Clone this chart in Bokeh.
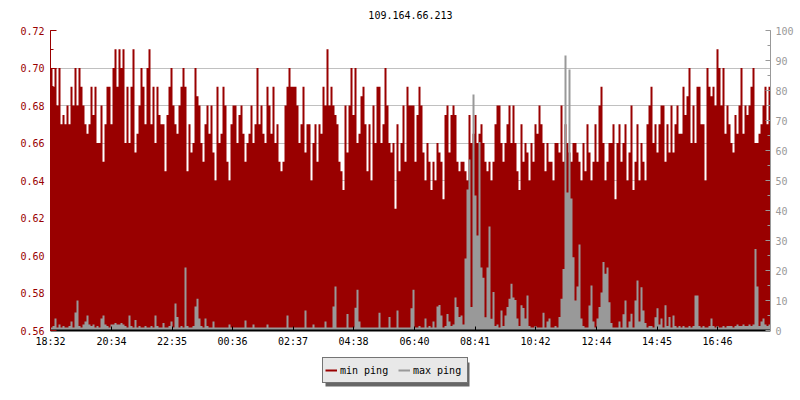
from bokeh.plotting import figure
from bokeh.layouts import column
from bokeh.models import (Range1d, LinearAxis, FixedTicker, SingleIntervalTicker,
                          PrintfTickFormatter, Legend, LegendItem, BoxAnnotation)
from bokeh.embed import file_html
from bokeh.resources import INLINE

TITLE = "109.164.66.213"
SERIES_NAMES = ["min ping", "max ping"]
SAMPLE_MINUTES = 4
START_TIME = "18:32"
TICK_LABELS = ["18:32", "20:34", "22:35", "00:36", "02:37", "04:38",
               "06:40", "08:41", "10:42", "12:44", "14:45", "16:46"]

min_ping = [
    0.70, 0.69, 0.70, 0.68, 0.70, 0.67, 0.675, 0.67, 0.68, 0.67, 0.69, 0.68, 0.70, 0.68, 0.70, 0.69, 0.68, 0.67, 0.665, 0.67,
    0.69, 0.675, 0.69, 0.66, 0.66, 0.68, 0.65, 0.67, 0.69, 0.69, 0.67, 0.70, 0.71, 0.69, 0.71, 0.70, 0.71, 0.66, 0.69, 0.66,
    0.69, 0.71, 0.655, 0.665, 0.68, 0.70, 0.69, 0.67, 0.70, 0.71, 0.67, 0.69, 0.66, 0.69, 0.675, 0.67, 0.67, 0.645, 0.675, 0.69,
    0.70, 0.68, 0.67, 0.665, 0.68, 0.69, 0.70, 0.69, 0.645, 0.67, 0.655, 0.66, 0.70, 0.685, 0.68, 0.66, 0.65, 0.67, 0.68, 0.665,
    0.68, 0.655, 0.64, 0.69, 0.66, 0.665, 0.69, 0.68, 0.65, 0.64, 0.67, 0.68, 0.68, 0.66, 0.675, 0.68, 0.665, 0.65, 0.66, 0.665,
    0.68, 0.66, 0.67, 0.70, 0.67, 0.68, 0.665, 0.66, 0.69, 0.68, 0.665, 0.69, 0.66, 0.67, 0.65, 0.645, 0.65, 0.68, 0.69, 0.70,
    0.69, 0.69, 0.69, 0.68, 0.66, 0.67, 0.69, 0.655, 0.67, 0.67, 0.64, 0.66, 0.67, 0.65, 0.67, 0.665, 0.69, 0.68, 0.71, 0.68,
    0.69, 0.68, 0.675, 0.67, 0.65, 0.645, 0.635, 0.68, 0.655, 0.68, 0.70, 0.675, 0.70, 0.66, 0.665, 0.685, 0.69, 0.67, 0.645, 0.67,
    0.64, 0.68, 0.66, 0.69, 0.69, 0.66, 0.67, 0.70, 0.68, 0.66, 0.655, 0.66, 0.625, 0.67, 0.645, 0.66, 0.68, 0.65, 0.69, 0.68,
    0.68, 0.68, 0.65, 0.675, 0.69, 0.68, 0.655, 0.64, 0.66, 0.65, 0.635, 0.65, 0.64, 0.66, 0.655, 0.65, 0.63, 0.675, 0.68, 0.655,
    0.675, 0.68, 0.675, 0.65, 0.645, 0.65, 0.65, 0.645, 0.64, 0.675, 0.66, 0.665, 0.675, 0.66, 0.665, 0.67, 0.66, 0.65, 0.645, 0.65,
    0.64, 0.65, 0.67, 0.68, 0.68, 0.66, 0.65, 0.66, 0.67, 0.68, 0.66, 0.68, 0.66, 0.645, 0.635, 0.67, 0.65, 0.66, 0.655, 0.64,
    0.66, 0.65, 0.67, 0.665, 0.68, 0.67, 0.66, 0.645, 0.66, 0.65, 0.65, 0.64, 0.66, 0.66, 0.655, 0.68, 0.65, 0.67, 0.66, 0.655,
    0.65, 0.66, 0.66, 0.655, 0.65, 0.64, 0.66, 0.645, 0.67, 0.655, 0.64, 0.65, 0.67, 0.65, 0.68, 0.69, 0.66, 0.64, 0.65, 0.66,
    0.66, 0.67, 0.63, 0.66, 0.67, 0.65, 0.66, 0.67, 0.64, 0.655, 0.68, 0.635, 0.65, 0.67, 0.64, 0.66, 0.65, 0.64, 0.67, 0.68,
    0.69, 0.66, 0.67, 0.655, 0.67, 0.68, 0.68, 0.65, 0.67, 0.655, 0.68, 0.655, 0.67, 0.68, 0.665, 0.665, 0.69, 0.675, 0.685, 0.70,
    0.66, 0.68, 0.66, 0.69, 0.69, 0.67, 0.67, 0.64, 0.70, 0.69, 0.685, 0.69, 0.68, 0.71, 0.70, 0.68, 0.70, 0.665, 0.68, 0.67,
    0.66, 0.655, 0.675, 0.665, 0.68, 0.70, 0.665, 0.68, 0.675, 0.68, 0.69, 0.70, 0.66, 0.66, 0.665, 0.67, 0.68, 0.69, 0.67, 0.69,
]

max_ping = [
    1, 1.5, 4, 1, 2, 1, 1.5, 1, 1, 1.5, 3, 1, 6, 10, 1.5, 1, 2, 3, 5, 2,
    1.5, 2, 1, 1.5, 1, 4, 5, 2, 1.5, 1, 2, 2, 2.5, 2, 2, 2.5, 2, 1.5, 1, 5,
    1.5, 1, 3.5, 1, 1.5, 1, 1, 1.5, 1, 1, 1.5, 1, 5, 1.5, 1, 1, 2.5, 1, 1, 1.5,
    3, 1, 9, 4.5, 1, 1.5, 1, 21, 1.5, 1, 1, 1.5, 8, 10.6, 4, 1.5, 1, 4, 1.5, 1,
    1, 3, 1, 1, 1, 1, 1, 1, 1, 2, 1, 1, 1, 1, 1, 1, 1, 3.3, 1, 1,
    1, 2, 1, 1, 1, 1, 1, 1, 2, 1, 1, 1, 1, 1, 1, 1, 1, 1, 5, 1,
    1, 1, 1, 1, 1, 1, 1, 6.7, 1, 1, 1, 2, 1, 1, 1, 1, 1, 3, 1, 1,
    1, 8, 14.7, 1, 1, 1, 1, 1, 5.5, 1, 1, 1, 7.6, 13.6, 3, 1, 1, 1, 1, 1,
    1, 1, 1, 1, 5.9, 1, 1, 1, 1, 4.5, 1, 1, 1, 6.7, 1, 1, 1, 1, 1, 1,
    7.4, 13.6, 1, 1, 1.5, 1, 1, 4, 1, 1.5, 1, 3, 1, 8, 8.5, 5, 1, 1.5, 5.5, 3,
    1.5, 2, 11, 7.8, 4.5, 5, 2, 24, 47, 57, 7.8, 78.7, 45, 31.7, 62.8, 21, 17.6, 4.4, 21, 34.7,
    3.9, 12.8, 1.5, 2, 1, 6.7, 1.5, 5, 7.8, 10.6, 15.6, 11, 10.2, 4, 1.5, 8.4, 7.5, 4, 11.7, 1.5,
    1, 1, 1.5, 1, 1, 1, 5.9, 1, 3, 4, 1, 1, 1.5, 1, 4.5, 10.6, 20.5, 91.7, 46, 87,
    44, 24.4, 10, 14.7, 28.7, 4, 1.5, 1, 1, 8.3, 15, 3, 1, 4, 7.8, 12.7, 22.8, 18.9, 21, 9.4,
    2.5, 1, 1, 1, 3, 1, 5.4, 10, 1, 3, 5.6, 1, 10, 16.7, 3, 14.4, 6.7, 2.5, 1, 1.5,
    1.5, 1, 4.4, 7.4, 2, 4, 1, 8.4, 1.5, 4.5, 1, 5, 1.5, 1, 1.5, 1, 1.5, 1, 1, 1.5,
    1, 1.5, 11.7, 11.7, 1.5, 1, 1.5, 1, 1, 1.5, 4, 1.5, 1, 1.5, 1, 1, 1.5, 1, 1.5, 1.5,
    1.5, 1, 1.5, 2, 1.5, 1.5, 2, 1.5, 1.5, 2, 1.5, 2, 27.2, 14.7, 1.5, 3, 4, 2, 1.5, 2,
]

RED = "#990000"
GRAY = "#999999"
FONT = "DejaVu Sans Mono"
FS = "10px"
NAN = float("nan")


def to_min(label):
    h, m = label.split(":")
    return int(h) * 60 + int(m)


start = to_min(START_TIME)
tick_pos = [(to_min(t) - start) % 1440 for t in TICK_LABELS]

n = len(min_ping)
edges = [SAMPLE_MINUTES * i for i in range(n + 1)]
min_vals = min_ping + [min_ping[-1]]
max_vals = max_ping + [max_ping[-1]]
x_end = edges[-1]

W = 800
H1 = 350
ML, MR, MT, MB = 50, 30, 30, 20
FRAME_W = W - ML - MR

p = figure(width=W, height=H1, output_backend="svg", toolbar_location=None,
           x_range=Range1d(0, x_end), y_range=Range1d(0.56, 0.72),
           min_border_left=ML, min_border_right=MR, min_border_top=MT, min_border_bottom=MB,
           title=TITLE)
p.outline_line_color = None
p.background_fill_color = "white"
p.border_fill_color = "white"

p.title.align = "center"
p.title.vertical_align = "top"
p.title.text_font = FONT
p.title.text_font_size = FS
p.title.text_font_style = "normal"
p.title.text_color = "black"
p.title.standoff = 19

p.xgrid.grid_line_color = None
p.ygrid.grid_line_color = "#c0c0c0"

# left axis
ya = p.yaxis[0]
ya.ticker = SingleIntervalTicker(interval=0.02, num_minor_ticks=2)
ya.formatter = PrintfTickFormatter(format="%.2f")
ya.axis_line_color = RED
ya.major_tick_line_color = RED
ya.minor_tick_line_color = RED
ya.major_tick_in = 6
ya.major_tick_out = 0
ya.minor_tick_in = 3
ya.minor_tick_out = 0
ya.major_label_text_color = RED
ya.major_label_text_font = FONT
ya.major_label_text_font_size = FS
ya.major_label_standoff = 6
p.ygrid.ticker = ya.ticker

# right axis
p.extra_y_ranges = {"ping": Range1d(0, 100)}
ra = LinearAxis(y_range_name="ping", ticker=SingleIntervalTicker(interval=10, num_minor_ticks=2))
ra.axis_line_color = GRAY
ra.major_tick_line_color = GRAY
ra.minor_tick_line_color = GRAY
ra.major_tick_in = 5
ra.major_tick_out = 0
ra.minor_tick_in = 3
ra.minor_tick_out = 0
ra.major_label_text_color = GRAY
ra.major_label_text_font = FONT
ra.major_label_text_font_size = FS
ra.major_label_standoff = 5
p.add_layout(ra, "right")

# bottom axis
xa = p.xaxis[0]
xa.ticker = FixedTicker(ticks=tick_pos, minor_ticks=[])
xa.major_label_overrides = {pos: lab for pos, lab in zip(tick_pos, TICK_LABELS)}
xa.axis_line_color = "black"
xa.axis_line_width = 2
xa.major_tick_line_color = "black"
xa.major_tick_in = 4
xa.major_tick_out = 0
xa.minor_tick_line_color = None
xa.major_label_text_font = FONT
xa.major_label_text_font_size = FS
xa.major_label_text_color = "black"
xa.major_label_standoff = 5

# data
p.varea_step(x=edges, y1=[0.56] * len(edges), y2=min_vals, step_mode="after",
             fill_color=RED, fill_alpha=1)
p.varea_step(x=edges, y1=[0] * len(edges), y2=max_vals, step_mode="after",
             fill_color=GRAY, fill_alpha=1, y_range_name="ping")

# legend strip: a second figure whose frame lines up with the chart's frame
H2 = 400 - H1
q = figure(width=W, height=H2, output_backend="svg", toolbar_location=None,
           x_range=Range1d(0, FRAME_W), y_range=Range1d(0, H2),
           x_axis_location=None, y_axis_location=None,
           min_border_left=ML, min_border_right=MR, min_border_top=0, min_border_bottom=0)
q.outline_line_color = None
q.xgrid.visible = False
q.ygrid.visible = False

r_min = q.line(x=[NAN], y=[NAN], line_color=RED, line_width=2)
r_max = q.line(x=[NAN], y=[NAN], line_color=GRAY, line_width=2)

LEG_X, LEG_TOP, LEG_H = 322 - ML, 9, 24
LEG_PAD, LEG_GW, LEG_SO, LEG_LW, LEG_SP = 2, 12, 3, 52, 6
LEG_W = 2 * LEG_PAD + 2 * (LEG_GW + LEG_SO + LEG_LW) + LEG_SP
SH = 3

shadow = BoxAnnotation(left=LEG_X + SH, right=LEG_X + LEG_W + SH,
                       top=H2 - LEG_TOP - SH, bottom=H2 - LEG_TOP - LEG_H - SH,
                       fill_color="#666666", fill_alpha=1, line_color=None)
q.add_layout(shadow)

legend = Legend(items=[LegendItem(label=SERIES_NAMES[0], renderers=[r_min]),
                       LegendItem(label=SERIES_NAMES[1], renderers=[r_max])],
                location=(LEG_X, H2 - LEG_TOP - LEG_H), orientation="horizontal",
                padding=LEG_PAD, spacing=LEG_SP, margin=0, label_standoff=LEG_SO,
                glyph_width=LEG_GW, glyph_height=20, label_height=20, label_width=LEG_LW,
                background_fill_color="#e8e8e8", background_fill_alpha=1,
                border_line_color="black", border_line_width=1,
                label_text_font=FONT, label_text_font_size=FS, label_text_color="black")
q.add_layout(legend)

layout = column(p, q, spacing=0)
open("out.html", "w").write(file_html(layout, INLINE))
